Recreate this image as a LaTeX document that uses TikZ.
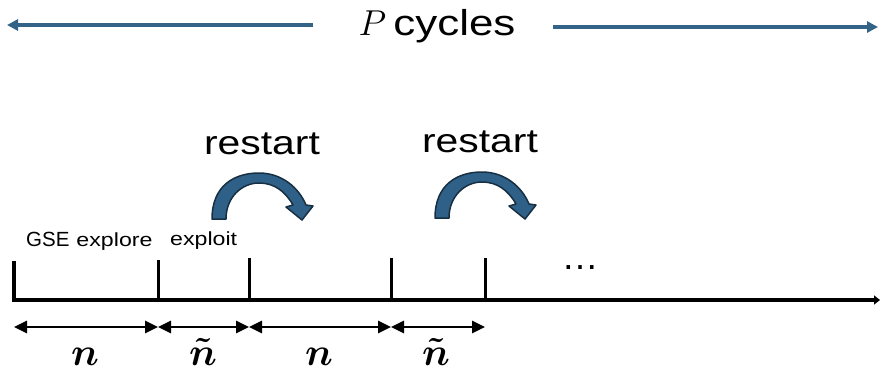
\RequirePackage{fix-cm}
\documentclass[tikz,border=0pt]{standalone}
\usepackage{fontspec}
\usetikzlibrary{arrows.meta}
\newfontfamily\labelsf[FakeStretch=1.22]{Liberation Sans}
\newfontfamily\plainsf{Liberation Sans}
\definecolor{spanblue}{HTML}{336487}
\definecolor{bendfill}{HTML}{2F6087}
\definecolor{bendedge}{HTML}{172F42}
\tikzset{
  sz/.style={font=\fontsize{#1}{#1}\selectfont\labelsf},
  span/.style={draw=spanblue, line width=3.5pt, -{Triangle[length=11pt,width=11pt]}},
  axis/.style={line width=3.5pt, -{Triangle[length=6pt,width=9pt]}},
  tick/.style={line width=3pt},
  dimarrow/.style={line width=2.8pt, {Triangle[length=13pt,width=12pt]}-{Triangle[length=13pt,width=12pt]}},
  nlab/.style={anchor=base, font=\fontsize{39}{39}\selectfont\boldmath},
  bendarrow/.pic={
    \filldraw[fill=bendfill, draw=bendedge, line width=1.5pt, line join=round]
      (0,0) .. controls (0,-34) and (23,-46) .. (47,-46)
      .. controls (70,-46) and (87,-31) .. (94,-14)
      -- (101,-13) -- (90,1) -- (74,-12) -- (81,-14)
      .. controls (73,-28) and (62,-36) .. (47,-36)
      .. controls (30,-36) and (14,-22) .. (14,0) -- cycle;
  }
}
\begin{document}
\begin{tikzpicture}[x=1pt, y=-1pt]
\useasboundingbox (0,0) rectangle (881,373);

% span of all cycles
\node[sz=35, anchor=base] (title) at (437,35) {\fontsize{36}{36}\selectfont$P$\hspace{0.2em}cycles};
\coordinate (spanL) at (7,25);
\coordinate (spanLs) at (313,25);
\coordinate (spanRs) at (553,27);
\coordinate (spanR) at (878,27);
\draw[span] (spanLs) -- (spanL);
\draw[span] (spanRs) -- (spanR);

% restart markers
\node[sz=33.5, anchor=base] (rs1) at (262,154) {restart};
\node[sz=33.5, anchor=base] (rs2) at (480,152) {restart};
\pic (bend1) at (212,219) {bendarrow};
\pic (bend2) at (435,218) {bendarrow};

% phase labels
\node[anchor=base west, inner sep=0pt] (gse) at (26,246)
  {{\fontsize{20.5}{20.5}\selectfont\plainsf GSE}\hspace{7pt}{\fontsize{19}{19}\selectfont\labelsf explore}};
\node[sz=19, anchor=base west, inner sep=0pt] (exploit) at (170,245) {exploit};
\node[font=\fontsize{37}{37}\selectfont\plainsf, anchor=base] (more) at (580,269) {…};

% time axis with phase boundaries
\coordinate (t0) at (14,300);
\coordinate (t1) at (158,300);
\coordinate (t2) at (249,300);
\coordinate (t3) at (391,300);
\coordinate (t4) at (485,300);
\coordinate (tend) at (880,300);
\coordinate (h0) at (14,261);
\coordinate (h1) at (158,260);
\coordinate (h2) at (249,258);
\coordinate (h3) at (391,258);
\coordinate (h4) at (485,258);
\draw[axis] (h0) -- (t0) -- (tend);
\draw[tick] (h1) -- (t1);
\draw[tick] (h2) -- (t2);
\draw[tick] (h3) -- (t3);
\draw[tick] (h4) -- (t4);

% phase lengths
\coordinate (d0) at (14,327);
\coordinate (d1) at (158,327);
\coordinate (d2) at (249,327);
\coordinate (d3) at (391,327);
\coordinate (d4) at (485,327);
\draw[dimarrow] (d0) -- (d1);
\draw[dimarrow] (d1) -- (d2);
\draw[dimarrow] (d2) -- (d3);
\draw[dimarrow] (d3) -- (d4);
\node[nlab] (len1) at (85,365) {$n$};
\node[nlab] (len2) at (203,365) {$\tilde{n}$};
\node[nlab] (len3) at (319,365) {$n$};
\node[nlab] (len4) at (436,365) {$\tilde{n}$};
\end{tikzpicture}
\end{document}
